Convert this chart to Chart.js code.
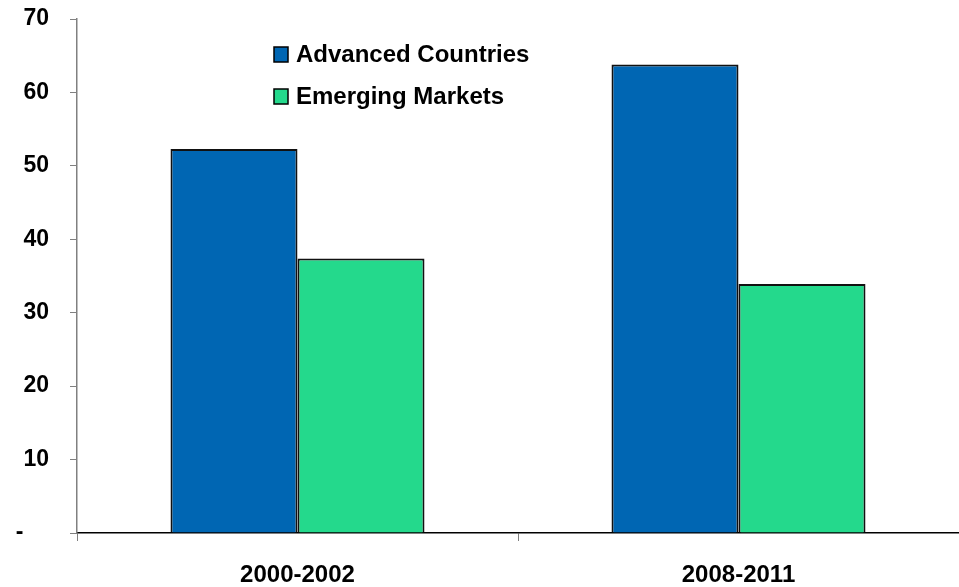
<!DOCTYPE html>
<html>
<head>
<meta charset="utf-8">
<script src="https://cdn.jsdelivr.net/npm/chart.js@4.4.1/dist/chart.umd.min.js"></script>
<style>
  html, body { margin: 0; padding: 0; background: #fff; }
  #wrap { width: 959px; height: 587px; position: relative; }
</style>
</head>
<body>
<div id="wrap"><canvas id="chart"></canvas></div>
<script>
// data
const periods = ['2000-2002', '2008-2011'];
const advanced = [52.3, 63.8];
const emerging = [37.4, 33.9];
const yTicks = [0, 10, 20, 30, 40, 50, 60, 70];

const FONT = '"Liberation Sans", Arial, sans-serif';

// legend drawn inside the plot, top-left-ish
const boxLegend = {
  id: 'boxLegend',
  afterDraw(chart) {
    const ctx = chart.ctx;
    const x0 = 274, rows = [54, 96];
    ctx.save();
    chart.data.datasets.forEach((ds, i) => {
      const y = rows[i];
      ctx.fillStyle = ds.backgroundColor;
      ctx.fillRect(x0, y - 7, 14, 15);
      ctx.lineWidth = 1.5;
      ctx.strokeStyle = '#000';
      ctx.strokeRect(x0, y - 7, 14, 15);
      ctx.fillStyle = '#000';
      ctx.font = 'bold 24px ' + FONT;
      ctx.textBaseline = 'middle';
      ctx.textAlign = 'left';
      ctx.fillText(ds.label, x0 + 22, y + 1);
    });
    ctx.restore();
  }
};

new Chart(document.getElementById('chart'), {
  type: 'bar',
  data: {
    labels: periods,
    datasets: [
      { label: 'Advanced Countries', data: advanced, backgroundColor: 'rgb(0,102,179)',
        borderColor: '#111', borderWidth: 2 },
      { label: 'Emerging Markets', data: emerging, backgroundColor: 'rgb(36,217,140)',
        borderColor: '#111', borderWidth: 2 }
    ]
  },
  options: {
    responsive: true,
    maintainAspectRatio: false,
    animation: false,
    layout: { padding: { top: 19, right: 0, bottom: 0, left: 0 } },
    plugins: { legend: { display: false }, tooltip: { enabled: false } },
    datasets: { bar: { barPercentage: 1, categoryPercentage: 0.576 } },
    scales: {
      x: {
        grid: { drawOnChartArea: false, drawTicks: true, tickLength: 8, color: '#808080', offset: true },
        border: { color: '#000', width: 1.5 },
        ticks: { color: '#000', font: { family: FONT, size: 24, weight: 'bold' }, padding: 20 },
        afterFit(s) { s.height = 54; s.paddingLeft = 0; s.paddingRight = 0; }
      },
      y: {
        min: 0, max: 70,
        afterBuildTicks(s) { s.ticks = yTicks.map(v => ({ value: v })); },
        grid: { drawOnChartArea: false, drawTicks: true, tickLength: 7, color: '#808080' },
        border: { color: '#808080', width: 1.5 },
        ticks: {
          color: '#000', padding: 21,
          font: { family: FONT, size: 23, weight: 'bold' },
          callback: v => v === 0 ? '-    ' : String(v)
        },
        afterFit(s) { s.width = 77; s.paddingTop = 0; s.paddingBottom = 0; }
      }
    }
  },
  plugins: [boxLegend]
});
</script>
</body>
</html>
